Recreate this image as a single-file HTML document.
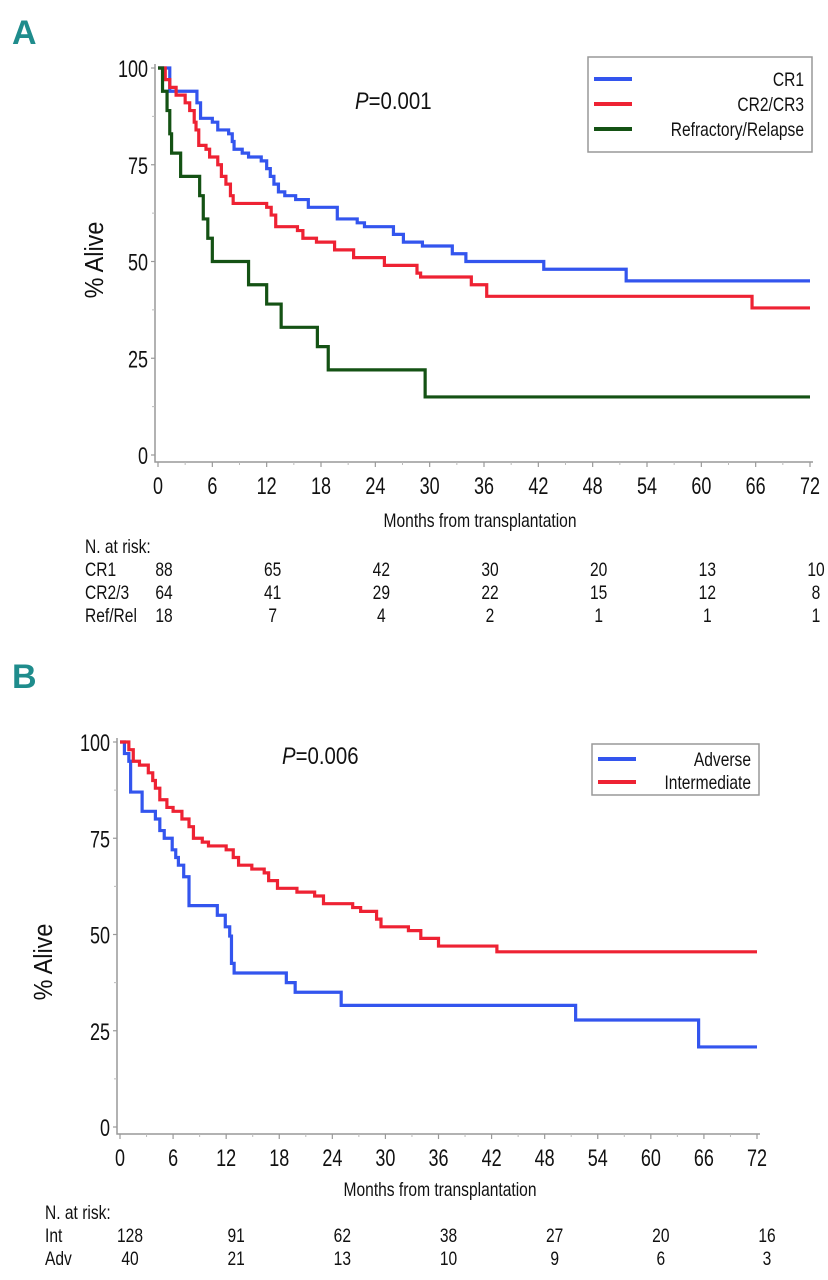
<!DOCTYPE html>
<html><head><meta charset="utf-8"><style>
html,body{margin:0;padding:0;background:#fff;}
svg{display:block;font-family:"Liberation Sans",sans-serif;}
</style></head><body>
<svg id="fig" width="828" height="1280" viewBox="0 0 828 1280" xmlns="http://www.w3.org/2000/svg">
<text x="12" y="44" font-size="34" font-weight="bold" fill="#1f8c8c">A</text>
<text x="12" y="688" font-size="34" font-weight="bold" fill="#1f8c8c">B</text>
</svg>
<script>
// ---- Panel A data ----
const xTicks = [0,6,12,18,24,30,36,42,48,54,60,66,72];
const yTicks = [0,25,50,75,100];
const cr1T = [0,1.3,4.3,4.7,6,6.6,7.8,8.2,8.4,9.3,10,11.4,12,12.4,12.8,13.3,14,15.2,16.6,19.8,22,22.8,26,27.1,29.2,32.5,34,42.6,51.7];
const cr1S = [100,94,91,87,86,84,83,81,79,78,77,76,74,72,70,68,67,66,64,61,60,59,57,55,54,52,50,48,45];
const cr23T = [0,0.8,1.3,2,3,3.5,4,4.2,4.5,5.3,5.7,6.6,7,7.5,8,8.3,12,12.5,13,15.4,16,17.5,19.5,21.6,25,28.6,29,34.6,36.3,65.6];
const cr23S = [100,97,95,93,91,89,86,84,80,79,77,75,72,70,67,65,64,62,59,58,56,55,53,51,49,47,46,44,41,38];
const refT = [0,0.5,1,1.3,1.5,2.5,4.6,5,5.5,6,10,12,13.6,17.6,18.8,29.5];
const refS = [100,94,89,83,78,72,67,61,56,50,44,39,33,28,22,15];
const riskA_CR1 = [88,65,42,30,20,13,10];
const riskA_CR23 = [64,41,29,22,15,12,8];
const riskA_Ref = [18,7,4,2,1,1,1];
const riskCols = [0,12,24,36,48,60,72];
// ---- Panel B data ----
const advT = [0,0.5,1,1.2,2.5,4,4.5,5,5.9,6.3,6.6,7.2,7.8,11,11.9,12.4,12.6,12.9,18.8,19.8,25,51.5,65.4];
const advS = [100,97,95,87,82,80,77,75,72,70,68,65,57.5,55,52,49.6,42.5,40,37.5,35,31.6,27.8,20.8];
const intT = [0,1,1.5,2.2,3.2,3.7,4,4.5,5.3,6,7,7.8,8.3,9.3,10,12,12.8,13.4,14.9,16.3,16.8,17.8,20,22,23,26.3,27.2,29,29.5,32.6,34,36,42.6];
const intS = [100,98,95,94,92,90,88,85,83,82,80,78,75,74,73,72,70,68,67,66,64,62,61,60,58,57,56,54,52,51,49,47,45.5];
const riskB_Int = [128,91,62,38,27,20,16];
const riskB_Adv = [40,21,13,10,9,6,3];

const NS = "http://www.w3.org/2000/svg";
const svg = document.getElementById('fig');
function mk(tag, attrs, parent){ const e=document.createElementNS(NS,tag); for(const k in attrs) e.setAttribute(k,attrs[k]); (parent||svg).appendChild(e); return e; }
function txt(x,y,s,size,anchor,parent,sx){
  const t=mk('text',{transform:`translate(${x},${y}) scale(${sx||0.8},1)`,'font-size':size,'text-anchor':anchor||'start',fill:'#111'},parent);
  t.textContent=s; return t;
}

function panel(cfg){
  const g=mk('g',{});
  
  
  const X=v=>cfg.x0+(cfg.x1-cfg.x0)*v/72;
  const Y=v=>cfg.y0+(cfg.y100-cfg.y0)*v/100;
  const ax=mk('path',{d:`M${cfg.axX},${Y(100)-4} V${cfg.axY} H${X(72)+3}`,stroke:'#999',fill:'none','stroke-width':1.5},g);
  
  
  xTicks.forEach(v=>{
    mk('line',{x1:X(v),x2:X(v),y1:cfg.axY,y2:cfg.axY+5,stroke:'#999','stroke-width':1.2},g);
    const t=txt(X(v),cfg.axY+32,String(v),24,'middle',g,0.75);
    
    
  });
  for(let i=0;i<=72;i+=3){ if(i%6) mk('line',{x1:X(i),x2:X(i),y1:cfg.axY,y2:cfg.axY+3,stroke:'#bbb'},g); }
  yTicks.forEach(v=>{
    mk('line',{x1:cfg.axX-4,x2:cfg.axX,y1:Y(v),y2:Y(v),stroke:'#999','stroke-width':1.2},g);
    const t=txt(cfg.axX-7,Y(v)+9,String(v),24,'end',g,0.75);
    
    
  });
  for(let v=12.5;v<100;v+=25) mk('line',{x1:cfg.axX-3,x2:cfg.axX,y1:Y(v),y2:Y(v),stroke:'#bbb'},g);
  const yt=mk('text',{transform:`translate(${cfg.ytx},${cfg.yty}) rotate(-90) scale(0.9,1)`,'font-size':26,'text-anchor':'middle',fill:'#111'},g);
  yt.textContent='% Alive';
  
  
  cfg.series.forEach(s=>{
    let d=`M${X(s.t[0])},${Y(s.s[0])}`;
    for(let i=1;i<s.t.length;i++){ d+=` H${X(s.t[i])} V${Y(s.s[i])}`; }
    d+=` H${X(72)}`;
    const p=mk('path',{d,stroke:s.c,fill:'none','stroke-width':3.2},g);
    
    
  });
  const pt=mk('text',{transform:`translate(${cfg.px},${cfg.py}) scale(0.85,1)`,'font-size':24,fill:'#111'},g);
  pt.innerHTML='<tspan font-style="italic">P</tspan>='+cfg.p;
  
  
  const L=cfg.leg;
  const lg=mk('g',{},g);
  
  
  mk('rect',{x:L.x,y:L.y,width:L.w,height:L.h,fill:'#fff',stroke:'#999','stroke-width':1.5},lg);
  cfg.series.forEach((s,i)=>{
    const yy=L.y+L.first+i*L.dy;
    const e=mk('g',{},lg);
    
    
    mk('line',{x1:L.x+6,x2:L.x+44,y1:yy,y2:yy,stroke:s.c,'stroke-width':4},e);
    txt(L.x+L.w-8,yy+7,s.label,19,'end',e,0.82);
  });
  const rt=mk('g',{},g);
  
  
  txt(cfg.monthsX,cfg.monthsY,'Months from transplantation',19,'middle',rt,0.82);
  txt(cfg.rlx,cfg.nY,'N. at risk:',19,'start',rt,0.82);
  cfg.risk.forEach((r,i)=>{
    const yy=cfg.nY+cfg.rdy*(i+1);
    txt(cfg.rlx,yy,r.label,19,'start',rt,0.82);
    r.v.forEach((n,j)=>{ txt(X(riskCols[j])+cfg.rOff,yy,String(n),19,'middle',rt,0.82); });
  });
}

panel({name:'panel-a-chart',x0:158,x1:810,y0:455,y100:68,axX:155,axY:462,ytx:103,yty:260,px:355,py:109,p:'0.001',
  series:[{id:'cr1-curve',t:cr1T,s:cr1S,c:'#3355ee',label:'CR1'},
          {id:'cr2-cr3-curve',t:cr23T,s:cr23S,c:'#ee2233',label:'CR2/CR3'},
          {id:'refractory-relapse-curve',t:refT,s:refS,c:'#145214',label:'Refractory/Relapse'}],
  leg:{x:588,y:57,w:224,h:95,first:22,dy:25},
  monthsX:480,monthsY:527,rlx:85,nY:553,rdy:23,rOff:6,
  risk:[{label:'CR1',v:riskA_CR1},{label:'CR2/3',v:riskA_CR23},{label:'Ref/Rel',v:riskA_Ref}]});

panel({name:'panel-b-chart',x0:120,x1:757,y0:1127,y100:742,axX:117,axY:1134,ytx:52,yty:962,px:282,py:764,p:'0.006',
  series:[{id:'adverse-curve',t:advT,s:advS,c:'#3355ee',label:'Adverse'},
          {id:'intermediate-curve',t:intT,s:intS,c:'#ee2233',label:'Intermediate'}],
  leg:{x:592,y:744,w:167,h:51,first:15,dy:23},
  monthsX:440,monthsY:1196,rlx:45,nY:1219,rdy:23,rOff:10,
  risk:[{label:'Int',v:riskB_Int},{label:'Adv',v:riskB_Adv}]});
</script>
</body></html>
